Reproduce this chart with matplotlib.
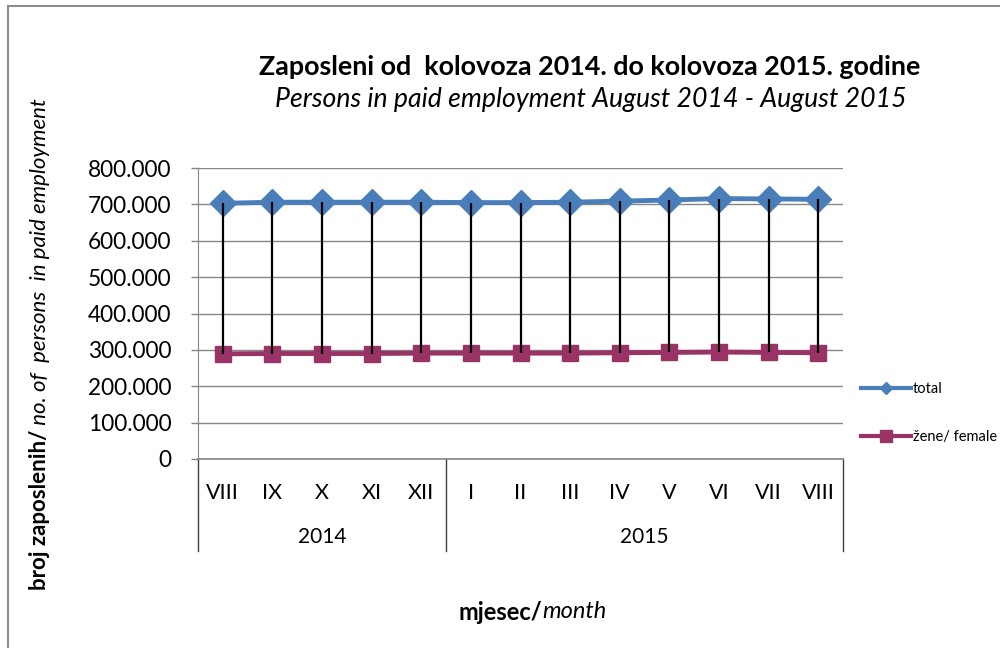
"""
Persons in paid employment, August 2014 - August 2015 (total vs. women), Excel-style line chart.
"""

import matplotlib.pyplot as plt
import matplotlib.transforms as mtransforms
from matplotlib.lines import Line2D
from matplotlib.patches import Rectangle

months = ['VIII', 'IX', 'X', 'XI', 'XII', 'I', 'II', 'III', 'IV', 'V', 'VI', 'VII', 'VIII']
years = ['2014', '2015']
year_spans = [(0, 4), (5, 12)]
total = [703000, 706000, 706000, 706000, 706000, 705000, 705000, 706000, 709000, 712000, 716000, 715000, 714000]
female = [289000, 290000, 290000, 290000, 291000, 291000, 291000, 291000, 292000, 293000, 294000, 293000, 292000]
yticks = [0, 100000, 200000, 300000, 400000, 500000, 600000, 700000, 800000]

plt.rcParams['font.family'] = ['Lato', 'DejaVu Sans']

fig = plt.figure(figsize=(10, 6.48), dpi=100)
fig.patches.append(Rectangle((0.008, -0.05), 1.1, 1.04, transform=fig.transFigure,
                             fill=False, edgecolor='#8c8c8c', linewidth=1.5))

ax = fig.add_axes([0.198, 0.2917, 0.645, 0.449])
x = list(range(len(months)))

# high-low lines between the two series
ax.vlines(x, female, total, colors='black', linewidth=1.6, zorder=4)
ax.plot(x, total, color='#4A7EBB', linewidth=3.5, marker='D', markersize=13, zorder=3, label='total')
ax.plot(x, female, color='#993366', linewidth=3.5, marker='s', markersize=12, zorder=3, label='žene/ female')

ax.set_xlim(-0.5, len(months) - 0.5)
ax.set_ylim(0, 800000)
ax.set_yticks(yticks)
ax.set_yticklabels(['{:,}'.format(v).replace(',', '.') if v else '0' for v in yticks], fontsize=16.3)
ax.yaxis.grid(True, color='#868686', linewidth=1)
ax.set_axisbelow(True)
ax.tick_params(axis='y', length=5, width=1, color='#868686', pad=14)

for direction in ['right', 'top']:
    ax.spines[direction].set_visible(False)
ax.spines['left'].set_color('#868686')
ax.spines['bottom'].set_color('#868686')
ax.spines['bottom'].set_linewidth(1.2)

# two-level category axis
ax.set_xticks([])
trans = mtransforms.blended_transform_factory(ax.transData, ax.transAxes)
for i, m in enumerate(months):
    ax.text(i, -0.117, m, transform=trans, ha='center', va='center', fontsize=15.5)
for yr, (a, b) in zip(years, year_spans):
    ax.text((a + b) / 2, -0.268, yr, transform=trans, ha='center', va='center', fontsize=15)
for sep in [-0.5, 4.5, len(months) - 0.5]:
    ax.plot([sep, sep], [0, -0.316], transform=trans, color='#404040', linewidth=1, clip_on=False)

# titles
fig.text(0.59, 0.897, 'Zaposleni od  kolovoza 2014. do kolovoza 2015. godine',
         ha='center', va='center', fontsize=19.4, fontweight='bold')
fig.text(0.591, 0.846, 'Persons in paid employment August 2014 - August 2015',
         ha='center', va='center', fontsize=19.2, style='italic')

# axis titles with mixed bold / italic parts
fig.canvas.draw()
renderer = fig.canvas.get_renderer()

t1 = fig.text(0.040, 1 - 590 / 648, 'broj zaposlenih/', rotation=90, ha='center', va='bottom',
              fontsize=16, fontweight='bold')
bb = t1.get_window_extent(renderer).transformed(fig.transFigure.inverted())
fig.text(0.040, bb.y1, ' no. of  persons  in paid employment', rotation=90, ha='center', va='bottom',
         fontsize=16, style='italic')

t2 = fig.text(0.5, 1 - 612 / 648, 'mjesec/', ha='left', va='center', fontsize=17, fontweight='bold')
bb2 = t2.get_window_extent(renderer).transformed(fig.transFigure.inverted())
t3 = fig.text(bb2.x1, 1 - 612 / 648, 'month', ha='left', va='center', fontsize=17, style='italic')
bb3 = t3.get_window_extent(renderer).transformed(fig.transFigure.inverted())
shift = 0.5325 - (bb2.x0 + bb3.x1) / 2
t2.set_x(bb2.x0 + shift)
t3.set_x(bb2.x1 + shift)

handles = [Line2D([], [], color='#4A7EBB', linewidth=3, marker='D', markersize=6),
           Line2D([], [], color='#993366', linewidth=3, marker='s', markersize=8)]
fig.legend(handles, ['total', 'žene/ female'], loc='upper left', bbox_to_anchor=(0.848, 0.43),
           frameon=False, handlelength=3.4, labelspacing=2.3, fontsize=10.5, handletextpad=0.15)

plt.savefig('out.png', dpi=100)
